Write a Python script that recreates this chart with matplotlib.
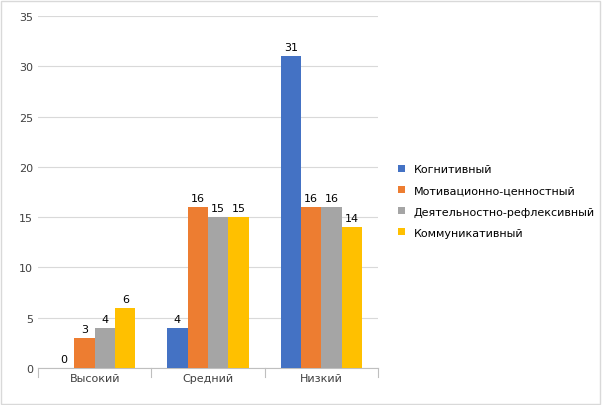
import matplotlib.pyplot as plt
import numpy as np

categories = ["Высокий", "Средний", "Низкий"]
series_names = ["Когнитивный", "Мотивационно-ценностный",
                "Деятельностно-рефлексивный", "Коммуникативный"]
cognitive = [0, 4, 31]
motivational = [3, 16, 16]
reflexive = [4, 15, 16]
communicative = [6, 15, 14]
colors = ["#4472C4", "#ED7D31", "#A5A5A5", "#FFC000"]

fig = plt.figure(figsize=(6.02, 4.06), dpi=100)
ax = fig.add_axes([38 / 602, 37 / 406, 340 / 602, 352 / 406])

x = np.arange(len(categories))
w = 0.18
for i, (vals, name, c) in enumerate(zip([cognitive, motivational, reflexive, communicative],
                                        series_names, colors)):
    pos = x + (i - 1.5) * w
    bars = ax.bar(pos, vals, w, color=c, label=name, zorder=3)
    for b, v in zip(bars, vals):
        ax.text(b.get_x() + b.get_width() / 2, v + 0.4, str(v),
                ha="center", va="bottom", fontsize=8, color="#000000")

ax.set_xlim(-0.5, 2.5)
ax.set_ylim(0, 35)
ax.set_yticks(range(0, 36, 5))
ax.set_xticks(x)
ax.set_xticklabels(categories)
ax.tick_params(axis="both", labelsize=8, colors="#404040", length=0)
ax.grid(axis="y", color="#D9D9D9", lw=0.8, zorder=0)
for s in ["top", "right", "left"]:
    ax.spines[s].set_visible(False)
ax.spines["bottom"].set_color("#BFBFBF")
for xb in [-0.5, 0.5, 1.5, 2.5]:
    ax.plot([xb, xb], [0, -0.9], color="#BFBFBF", lw=0.8, clip_on=False)

fig.legend(loc="center left", bbox_to_anchor=(388 / 602, 1 - 202 / 406),
           frameon=False, fontsize=8, handlelength=0.6, handleheight=0.6,
           labelspacing=1.0)

fig.patches.append(plt.Rectangle((0.002, 0.003), 0.995, 0.993, transform=fig.transFigure,
                                 fill=False, edgecolor="#D9D9D9", lw=1))
fig.savefig("out.png", dpi=100)
